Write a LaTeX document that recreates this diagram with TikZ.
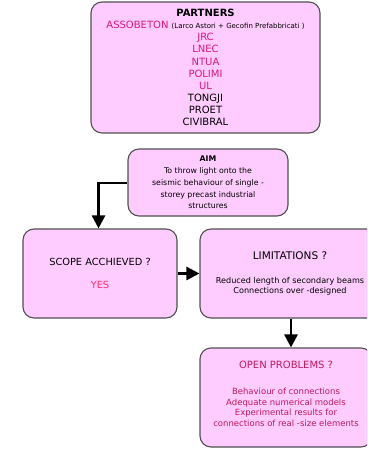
\documentclass[tikz,border=0pt]{standalone}
\usepackage{fontspec}
\setmainfont{DejaVu Sans}
\usetikzlibrary{arrows.meta}
\definecolor{boxfill}{RGB}{255,204,255}
\definecolor{boxline}{HTML}{505050}
\definecolor{partnerpink}{HTML}{E0147E}
\definecolor{yespink}{HTML}{FF2D6E}
\definecolor{problemred}{HTML}{C2185B}
\tikzset{
  card/.style={draw=boxline, line width=1.1pt, fill=boxfill, rounded corners=11pt,
    align=center, inner sep=0pt, text=black},
  flow/.style={line width=2.6pt, -{Triangle[length=13pt,width=13pt]}},
}
\begin{document}
\begin{tikzpicture}[x=1pt,y=-1pt]
\clip (0,0) rectangle (367,449);
\fill[white] (0,0) rectangle (367,449);

% partners
\node[card, minimum width=229pt, minimum height=131pt, font=\fontsize{10}{12.1}\selectfont]
  (partners) at (205.5,67.5) {%
  \textbf{PARTNERS}\\
  \textcolor{partnerpink}{ASSOBETON} {\fontsize{7}{7}\selectfont (Larco Astori + Gecofin Prefabbricati )}\\
  \textcolor{partnerpink}{JRC}\\
  \textcolor{partnerpink}{LNEC}\\
  \textcolor{partnerpink}{NTUA}\\
  \textcolor{partnerpink}{POLIMI}\\
  \textcolor{partnerpink}{UL}\\
  TONGJI\\
  PROET\\
  CIVIBRAL};

% aim
\node[card, minimum width=160pt, minimum height=67pt, font=\fontsize{7.8}{11.8}\selectfont]
  (aim) at (208,182.5) {%
  \textbf{AIM}\\
  To throw light onto the\\
  seismic behaviour of single -\\
  storey precast industrial\\
  structures};

% scope
\node[card, minimum width=154pt, minimum height=89pt, font=\fontsize{9.8}{11}\selectfont]
  (scope) at (100,273.5) {%
  SCOPE ACCHIEVED ?\\[12pt]
  \textcolor{yespink}{YES}};

% limitations
\node[card, minimum width=180pt, minimum height=89pt, font=\fontsize{8.1}{10.3}\selectfont]
  (limits) at (290,273.5) {%
  {\fontsize{10.5}{11}\selectfont LIMITATIONS ?}\\[14pt]
  Reduced length of secondary beams\\
  Connections over -designed};

% open problems
\node[card, minimum width=172pt, minimum height=99pt] (open) at (286,397.5) {};
\node[align=center, text=problemred, font=\fontsize{8.5}{10.8}\selectfont, inner sep=0pt]
  (opentext) at (286,394) {%
  {\fontsize{10}{11}\selectfont OPEN PROBLEMS ?}\\[15pt]
  Behaviour of connections\\
  Adequate numerical models\\
  Experimental results for\\
  connections of real -size elements};

% connectors
\coordinate (bend) at (98.5,183);
\draw[flow] (aim.west |- bend) -- (bend) -- (scope.north -| bend);
\draw[flow] (scope.east) -- (limits.west);
\draw[flow] (limits.south -| 291,0) -- (open.north -| 291,0);
\end{tikzpicture}
\end{document}
